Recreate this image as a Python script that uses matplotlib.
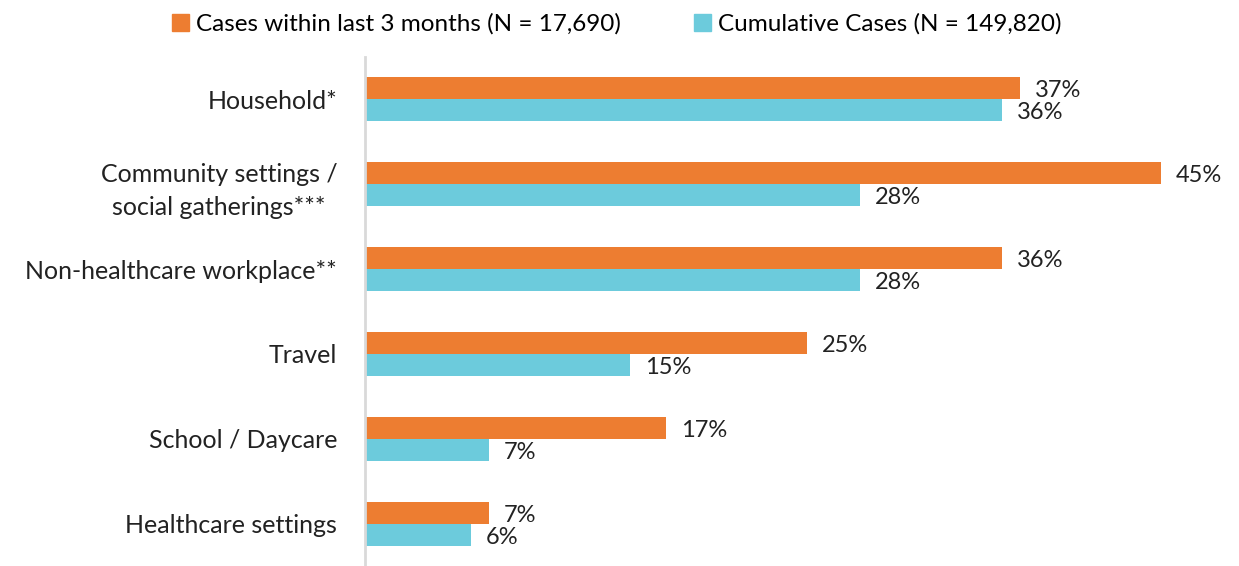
import numpy as np
import matplotlib.pyplot as plt
from matplotlib.patches import Patch

plt.rcParams['font.family'] = ['Lato', 'DejaVu Sans']

categories = ['Household*', 'Community settings /\nsocial gatherings***',
              'Non-healthcare workplace**', 'Travel', 'School / Daycare',
              'Healthcare settings']
recent = [37, 45, 36, 25, 17, 7]
cumulative = [36, 28, 28, 15, 7, 6]
labels = ['Cases within last 3 months (N = 17,690)',
          'Cumulative Cases (N = 149,820)']

orange = '#ed7d31'
blue = '#6ccbdc'

fig = plt.figure(figsize=(12.39, 5.66), dpi=100)
ax = fig.add_axes([365 / 1239, 0.0, (1230 - 365) / 1239, 1 - 57 / 566])

y = np.arange(len(categories))
h = 0.26
ax.barh(y - h / 2, recent, height=h, color=orange)
ax.barh(y + h / 2, cumulative, height=h, color=blue)

for yi, v in zip(y, recent):
    ax.text(v + 0.85, yi - h / 2 + 0.03, f'{v}%', va='center', ha='left',
            fontsize=17, color='#222222')
for yi, v in zip(y, cumulative):
    ax.text(v + 0.85, yi + h / 2 + 0.03, f'{v}%', va='center', ha='left',
            fontsize=17, color='#222222')

ax.set_xlim(0, (1230 - 365) / 17.69)
ax.set_ylim(len(categories) - 0.5, -0.5)
ax.set_yticks(y)
ax.set_yticklabels(categories, fontsize=18, color='#222222',
                   multialignment='center', linespacing=1.5)
ax.tick_params(axis='y', length=0, pad=20)
ax.set_xticks([])
for s in ['top', 'right', 'bottom']:
    ax.spines[s].set_visible(False)
ax.spines['left'].set_color('#d9d9d9')
ax.spines['left'].set_linewidth(2)

handles = [Patch(color=orange), Patch(color=blue)]
fig.legend(handles, labels, loc='upper center', bbox_to_anchor=(0.4976, 1.015),
           ncol=2, frameon=False, fontsize=17.5, handlelength=0.7,
           handleheight=0.7, handletextpad=0.3, columnspacing=3.0)

fig.savefig('out.png', dpi=100)
